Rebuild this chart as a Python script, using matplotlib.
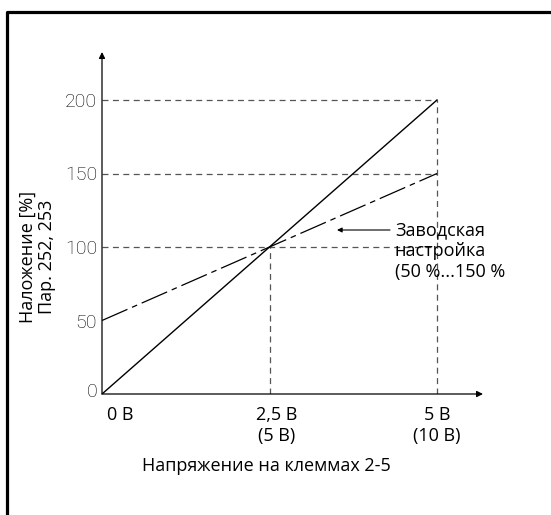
import matplotlib
matplotlib.use("Agg")
import matplotlib.pyplot as plt
from matplotlib.lines import Line2D
from matplotlib.transforms import offset_copy

plt.rcParams['lines.scale_dashes'] = False

# ---- data ----
x_vals = [0, 5]                       # voltage (0 V .. 5 V)
line_full = [0, 200]                  # solid line: 0 % .. 200 %
line_factory = [50, 150]              # dash-dot: factory setting 50 % .. 150 %
y_ticks = [0, 50, 100, 150, 200]
y_tick_labels = ["0", "50", "100", "150", "200"]
x_ticks = [0, 2.5, 5]
x_tick_labels = ["0 В", "2,5 В\n(5 В)", "5 В\n(10 В)"]
guide_levels = [100, 150, 200]
guide_x = [2.5, 5]
guide_x_top = [100, 200]
ylabel = "Наложение [%]\nПар. 252, 253"
xlabel = "Напряжение на клеммах 2-5"
annot_text = "Заводская\nнастройка\n(50 %...150 %"

W, H = 551, 515
fig = plt.figure(figsize=(W / 100, H / 100), dpi=100)

# axes placement in pixels
x0_px, x1_px = 102, 483
y0_px, y1_px = 394, 52
ax = fig.add_axes([x0_px / W, (H - y0_px) / H, (x1_px - x0_px) / W, (y0_px - y1_px) / H])
xmax = 5 * (x1_px - x0_px) / (437 - 102)
ymax = 200 * (y0_px - y1_px) / (394 - 100)
ax.set_xlim(0, xmax)
ax.set_ylim(0, ymax)
for s in ax.spines.values():
    s.set_visible(False)

TXT = "Open Sans"
FS = 13
TICKF = dict(family=["Roboto", "DejaVu Sans"], weight="light", size=14, color="black")

# axes with arrows
arrow_kw = dict(arrowstyle="-|>", lw=0.9, color="black", mutation_scale=9,
                shrinkA=0, shrinkB=0)
ax.annotate("", xy=(xmax, 0), xytext=(0, 0), arrowprops=arrow_kw, annotation_clip=False)
ax.annotate("", xy=(0, ymax), xytext=(0, 0), arrowprops=arrow_kw, annotation_clip=False)

# guide lines
gcol = "#555555"
gdash = (0, (4.3, 3.2))
for lv in guide_levels:
    ax.plot([0, 5], [lv, lv], color=gcol, lw=0.9, linestyle=gdash)
for gx, gt in zip(guide_x, guide_x_top):
    ax.plot([gx, gx], [0, gt], color=gcol, lw=0.9, linestyle=gdash)

# data lines
ax.plot(x_vals, line_full, color="black", lw=1.0)
ax.plot(x_vals, line_factory, color="black", lw=0.9,
        linestyle=(0, (20, 3.6, 4.0, 3.6)))

PT = 0.72  # points per pixel at dpi 100

# y tick labels (manual; the "0" sits slightly above the axis in the reference)
ax.set_xticks([])
ax.set_yticks([])
y_raise_px = [4, 0, 0, 0, 0]
for yv, lab, dy in zip(y_ticks, y_tick_labels, y_raise_px):
    tr = offset_copy(ax.transData, fig=fig, x=-5 * PT, y=dy * PT, units="points")
    ax.text(0, yv, lab, transform=tr, ha="right", va="center_baseline", **TICKF)

# x tick labels (manual, line by line, slightly offset to the right as in the reference)
x_offsets_px = [18, 7, 0]
for xv, lab, dx in zip(x_ticks, x_tick_labels, x_offsets_px):
    for i, line in enumerate(lab.split("\n")):
        tr = offset_copy(ax.transData, fig=fig, x=dx * PT, y=-(21 + 21 * i) * PT, units="points")
        ax.text(xv, 0, line, transform=tr, ha="center", va="center", family=TXT, size=FS)

# axis titles
for i, line in enumerate(ylabel.split("\n")):
    fig.text((28 + 19 * i) / W, 1 - 257 / H, line, rotation=90, ha="center", va="center",
             family=TXT, size=FS)
fig.text(266 / W, 1 - 466 / H, xlabel, ha="center", va="center", family=TXT, size=FS)

# annotation
ax.annotate("", xy=(337, H - 230), xytext=(390, H - 230), xycoords="figure pixels",
            textcoords="figure pixels",
            arrowprops=dict(arrowstyle="-|>", lw=0.8, color="black",
                            mutation_scale=7, shrinkA=0, shrinkB=0))
for i, line in enumerate(annot_text.split("\n")):
    fig.text(395 / W, 1 - (230 + 21 * i) / H, line, ha="left", va="center",
             family=TXT, size=FS)

# outer frame (left and top only)
fig.add_artist(Line2D([7 / W, 7 / W, 1.0], [0, 1 - 12 / H, 1 - 12 / H],
                      transform=fig.transFigure, color="black", lw=2.3))

fig.savefig("out.png", dpi=100)
